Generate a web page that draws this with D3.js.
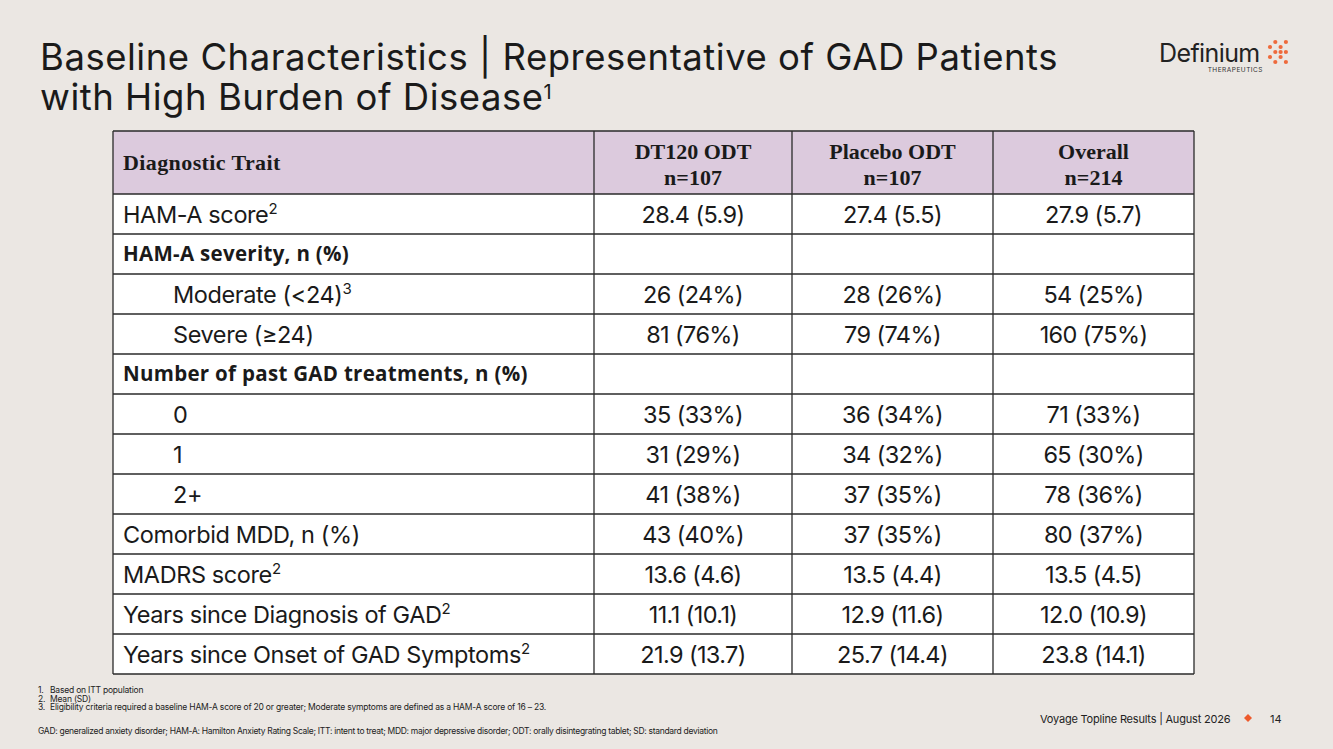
<!DOCTYPE html>
<html><head><meta charset="utf-8">
<script src="https://cdn.jsdelivr.net/npm/d3@7/dist/d3.min.js"></script>
<style>
html,body{margin:0;padding:0;background:#ebe7e3;}
svg{display:block;}
</style></head>
<body>
<svg id="c" width="1333" height="749"></svg>
<script>
// ---------- data ----------
const titleLines = ["Baseline Characteristics | Representative of GAD Patients", "with High Burden of Disease"];
const columns = ["Diagnostic Trait", "DT120 ODT", "Placebo ODT", "Overall"];
const columnN = ["", "n=107", "n=107", "n=214"];
const rowLabels = ["HAM-A score", "HAM-A severity, n (%)", "Moderate (<24)", "Severe (\u226524)",
  "Number of past GAD treatments, n (%)", "0", "1", "2+", "Comorbid MDD, n (%)", "MADRS score",
  "Years since Diagnosis of GAD", "Years since Onset of GAD Symptoms"];
const rowSup = ["2", "", "3", "", "", "", "", "", "", "2", "2", "2"];
const rowBold = [false, true, false, false, true, false, false, false, false, false, false, false];
const rowIndent = [false, false, true, true, false, true, true, true, false, false, false, false];
const dt120 = ["28.4 (5.9)", "", "26 (24%)", "81 (76%)", "", "35 (33%)", "31 (29%)", "41 (38%)", "43 (40%)", "13.6 (4.6)", "11.1 (10.1)", "21.9 (13.7)"];
const placebo = ["27.4 (5.5)", "", "28 (26%)", "79 (74%)", "", "36 (34%)", "34 (32%)", "37 (35%)", "37 (35%)", "13.5 (4.4)", "12.9 (11.6)", "25.7 (14.4)"];
const overall = ["27.9 (5.7)", "", "54 (25%)", "160 (75%)", "", "71 (33%)", "65 (30%)", "78 (36%)", "80 (37%)", "13.5 (4.5)", "12.0 (10.9)", "23.8 (14.1)"];
const footnotes = ["Based on ITT population", "Mean (SD)", "Eligibility criteria required a baseline HAM-A score of 20 or greater; Moderate symptoms are defined as a HAM-A score of 16 \u2013 23."];
const abbreviations = "GAD: generalized anxiety disorder; HAM-A: Hamilton Anxiety Rating Scale;  ITT: intent to treat; MDD: major depressive disorder; ODT: orally disintegrating tablet; SD: standard deviation";
const footerText = "Voyage Topline Results | August 2026";
const pageNum = "14";

// ---------- layout ----------
const svg = d3.select("#c");
const sans = "Inter, Roboto, 'Noto Sans', sans-serif";
const serif = "'Liberation Serif', 'DejaVu Serif', serif";
const boldSans = "'Open Sans', 'Noto Sans', sans-serif";
const ink = "#1a1a1a";

// title
const title = svg.append("g");
const titleSize = 36.5;
titleLines.forEach((t, i) => {
  const tx = title.append("text").attr("class", "tl").attr("x", 40).attr("y", 70 + i * 40)
    .attr("font-family", sans).attr("font-size", titleSize).attr("letter-spacing", 0)
    .attr("fill", ink).text(t);
  if (i === 1) {
    tx.append("tspan").attr("font-size", 20).attr("dy", -11).attr("letter-spacing", 0).text("1");
  }
});
{
  const t0 = title.select("text").node();
  const w = t0.getComputedTextLength();
  const n = titleLines[0].length;
  const ls = (1018 - w) / n;
  title.selectAll("text.tl").attr("letter-spacing", ls);
}

// logo
const logo = svg.append("g");
logo.append("text").attr("x", 1159).attr("y", 62).attr("font-family", sans).attr("font-size", 25)
  .attr("letter-spacing", -0.6).attr("fill", "#222").text("Definium");
logo.append("text").attr("x", 1263).attr("y", 72).attr("text-anchor", "end").attr("font-family", sans)
  .attr("font-size", 6.5).attr("letter-spacing", 0.5).attr("fill", "#333").text("THERAPEUTICS");
const dotGrid = [[1,0],[3,0],[0,1],[2,1],[1,2],[2,2],[3,2],[0,3],[2,3],[1,4],[3,4]];
logo.selectAll("circle.d").data(dotGrid).join("circle")
  .attr("cx", d => 1270 + d[0] * 5.3).attr("cy", d => 42 + d[1] * 5.0)
  .attr("r", 2.1).attr("fill", "#ee6a3c");

// table
const colEdges = [113, 594, 792, 993, 1194];
const headTop = 131, headBot = 194, rowH = 40;
const nRows = rowLabels.length;
const y = d3.scaleBand().domain(d3.range(nRows)).range([headBot, headBot + rowH * nRows]).padding(0);
const tbl = svg.append("g");
tbl.append("rect").attr("x", colEdges[0]).attr("y", headTop).attr("width", colEdges[4] - colEdges[0])
  .attr("height", headBot - headTop).attr("fill", "#dccadd");
tbl.append("rect").attr("x", colEdges[0]).attr("y", headBot).attr("width", colEdges[4] - colEdges[0])
  .attr("height", rowH * nRows).attr("fill", "#ffffff");

// header text
const hSize = 22;
tbl.append("text").attr("x", 123).attr("y", 170).attr("font-family", serif).attr("font-weight", 700)
  .attr("font-size", hSize).attr("letter-spacing", 0.4).attr("fill", ink).text(columns[0]);
for (let c = 1; c < 4; c++) {
  const cx = (colEdges[c] + colEdges[c + 1]) / 2;
  tbl.append("text").attr("x", cx).attr("y", 159).attr("text-anchor", "middle").attr("font-family", serif)
    .attr("font-weight", 700).attr("font-size", hSize).attr("fill", ink).text(columns[c]);
  tbl.append("text").attr("x", cx).attr("y", 185).attr("text-anchor", "middle").attr("font-family", serif)
    .attr("font-weight", 700).attr("font-size", hSize).attr("fill", ink).text(columnN[c]);
}

// rows
const bodySize = 23.5;
const valueCols = [dt120, placebo, overall];
rowLabels.forEach((lab, i) => {
  const yc = y(i) + y.bandwidth() / 2;
  const t = tbl.append("text").attr("x", rowIndent[i] ? 173 : 123).attr("y", yc + (rowBold[i] ? 7 : 8.5))
    .attr("fill", ink);
  if (rowBold[i]) {
    t.attr("font-family", boldSans).attr("font-weight", 700).attr("font-size", 20.5).attr("letter-spacing", 0.3).text(lab);
  } else {
    t.attr("font-family", sans).attr("font-weight", 400).attr("font-size", bodySize).attr("letter-spacing", -0.4).text(lab);
    if (rowSup[i]) t.append("tspan").attr("font-size", 15).attr("dy", -9).attr("letter-spacing", 0).text(rowSup[i]);
  }
  valueCols.forEach((vals, c) => {
    if (!vals[i]) return;
    tbl.append("text").attr("x", (colEdges[c + 1] + colEdges[c + 2]) / 2).attr("y", yc + 8.5)
      .attr("text-anchor", "middle").attr("font-family", sans).attr("font-size", bodySize)
      .attr("letter-spacing", -0.6).attr("fill", ink).text(vals[i]);
  });
});

// grid lines
const lineCol = "#2a2a2a";
const hLines = [headTop, headBot].concat(d3.range(nRows).map(i => y(i) + y.bandwidth()));
tbl.selectAll("line.h").data(hLines).join("line")
  .attr("x1", colEdges[0]).attr("x2", colEdges[4]).attr("y1", d => d).attr("y2", d => d)
  .attr("stroke", lineCol).attr("stroke-width", 1.3);
tbl.selectAll("line.v").data(colEdges).join("line")
  .attr("x1", d => d).attr("x2", d => d).attr("y1", headTop).attr("y2", headBot + rowH * nRows)
  .attr("stroke", lineCol).attr("stroke-width", 1.3);

// footnotes
const fn = svg.append("g").attr("font-family", sans).attr("font-size", 8.5).attr("fill", "#222").attr("letter-spacing", -0.2);
footnotes.forEach((f, i) => {
  fn.append("text").attr("x", 38).attr("y", 693 + i * 8.5).text((i + 1) + ".");
  fn.append("text").attr("x", 50).attr("y", 693 + i * 8.5).text(f);
});
fn.append("text").attr("x", 38).attr("y", 734).attr("letter-spacing", -0.3).text(abbreviations);

// footer
svg.append("text").attr("x", 1040).attr("y", 723).attr("font-family", sans).attr("font-size", 11)
  .attr("letter-spacing", -0.2).attr("fill", "#222").text(footerText);
svg.append("path").attr("d", "M1248,714 l4,4 l-4,4 l-4,-4 z").attr("fill", "#ee5a2c");
svg.append("text").attr("x", 1270).attr("y", 723).attr("font-family", sans).attr("font-size", 11)
  .attr("fill", "#222").text(pageNum);
</script>
</body></html>
